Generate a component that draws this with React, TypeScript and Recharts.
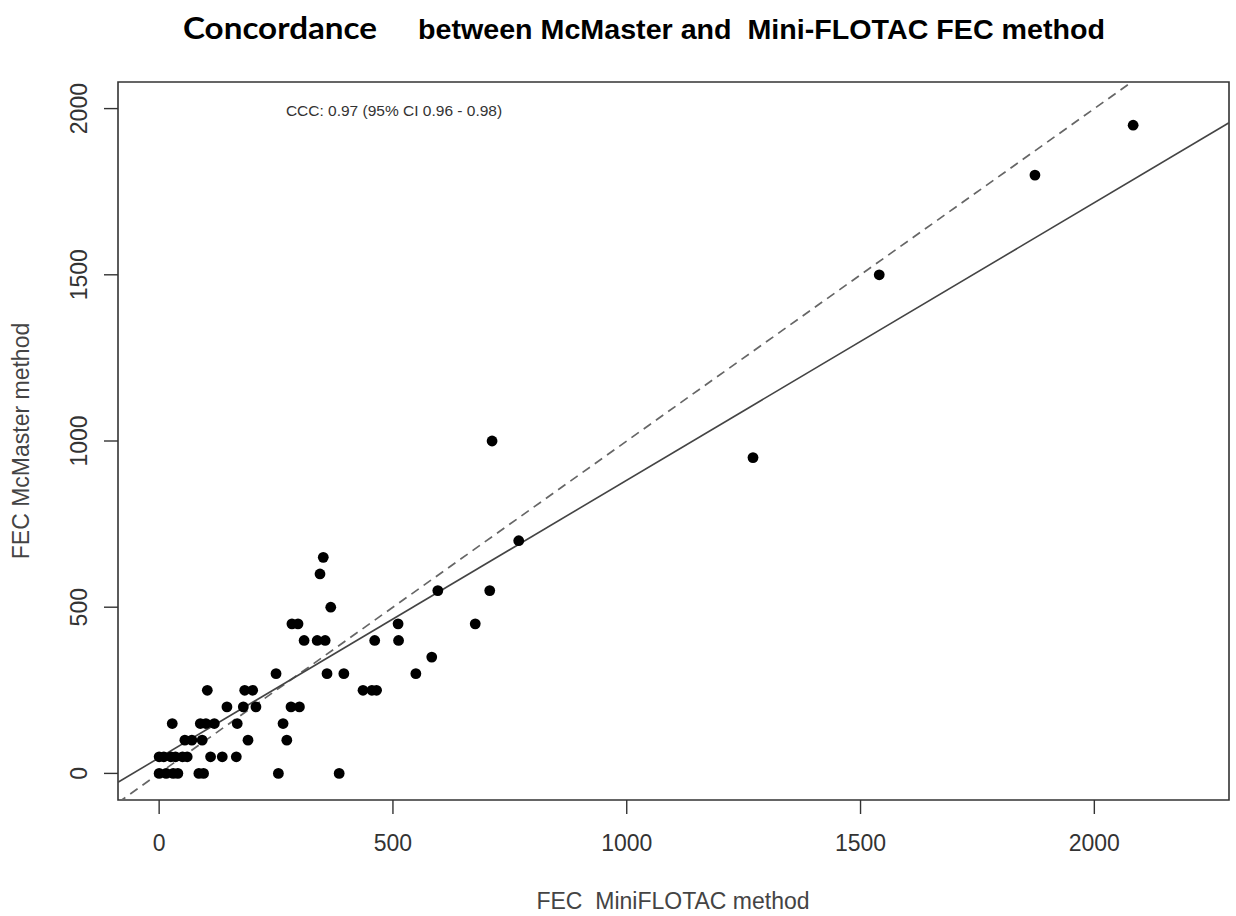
import React from 'react';
import { ScatterChart, Scatter, XAxis, YAxis, ReferenceLine, ReferenceArea } from 'recharts';

// FEC MiniFLOTAC (x) paired with FEC McMaster (y)
const miniFlotacFec = [
  0, 15, 30, 40, 85, 95, 255, 385,
  0, 10, 25, 35, 50, 60, 110, 135, 165,
  55, 70, 92, 190, 273,
  28, 88, 100, 118, 167, 265,
  145, 180, 207, 282, 300,
  103, 183, 200, 436, 455, 465,
  250, 359, 395, 549,
  583,
  310, 338, 355, 461, 512,
  284, 297, 511, 676,
  367,
  596, 707,
  344,
  351,
  769,
  1270,
  712,
  1540,
  1873,
  2083,
];
const mcMasterFec = [
  0, 0, 0, 0, 0, 0, 0, 0,
  50, 50, 50, 50, 50, 50, 50, 50, 50,
  100, 100, 100, 100, 100,
  150, 150, 150, 150, 150, 150,
  200, 200, 200, 200, 200,
  250, 250, 250, 250, 250, 250,
  300, 300, 300, 300,
  350,
  400, 400, 400, 400, 400,
  450, 450, 450, 450,
  500,
  550, 550,
  600,
  650,
  700,
  950,
  1000,
  1500,
  1800,
  1950,
];

const xTicks = [0, 500, 1000, 1500, 2000];
const yTicks = [0, 500, 1000, 1500, 2000];
const xDomain: [number, number] = [-88, 2288];
const yDomain: [number, number] = [-80, 2080];

// fitted line (solid) and line of perfect concordance y = x (dashed)
const fitIntercept = 47;
const fitSlope = 0.835;

const titleMain = 'Concordance';
const titleRest = 'between McMaster and  Mini-FLOTAC FEC method';
const xLabel = 'FEC  MiniFLOTAC method';
const yLabel = 'FEC McMaster method';
const cccLabel = 'CCC: 0.97 (95% CI 0.96 - 0.98)';

const points = miniFlotacFec.map((x, i) => ({ x, y: mcMasterFec[i] }));

const FONT = '"Liberation Sans", Arial, sans-serif';

const XTick = (props: any) => {
  const { x, y, payload } = props;
  return (
    <text x={x} y={y + 35} textAnchor="middle" fontSize={23} fontFamily={FONT} fill="#333">
      {payload.value}
    </text>
  );
};

const YTick = (props: any) => {
  const { x, y, payload } = props;
  return (
    <text
      transform={`translate(${x - 15},${y}) rotate(-90)`}
      textAnchor="middle"
      fontSize={23}
      fontFamily={FONT}
      fill="#333"
    >
      {payload.value}
    </text>
  );
};

const Dot = (props: any) => {
  const { cx, cy } = props;
  return <circle cx={cx} cy={cy} r={5.4} fill="#000" />;
};

export default function App() {
  const fitStart = { x: xDomain[0], y: fitIntercept + fitSlope * xDomain[0] };
  const fitEnd = { x: xDomain[1], y: fitIntercept + fitSlope * xDomain[1] };
  const idStart = { x: xDomain[0], y: xDomain[0] };
  const idEnd = { x: yDomain[1], y: yDomain[1] };
  return (
    <div style={{ position: 'absolute', left: 0, top: 0, width: 1236, height: 916, background: '#fff' }}>
      <ScatterChart width={1236} height={916} margin={{ top: 82, right: 7, bottom: 0, left: 0 }}>
        <XAxis
          type="number"
          dataKey="x"
          domain={xDomain}
          ticks={xTicks}
          allowDataOverflow
          height={116}
          axisLine={false}
          tickSize={14}
          tickLine={{ stroke: '#333', strokeWidth: 1.4 }}
          tick={<XTick />}
          interval={0}
        />
        <YAxis
          type="number"
          dataKey="y"
          domain={yDomain}
          ticks={yTicks}
          allowDataOverflow
          width={118}
          axisLine={false}
          tickSize={14}
          tickLine={{ stroke: '#333', strokeWidth: 1.4 }}
          tick={<YTick />}
          interval={0}
        />
        <ReferenceArea
          x1={xDomain[0]}
          x2={xDomain[1]}
          y1={yDomain[0]}
          y2={yDomain[1]}
          fill="none"
          fillOpacity={0}
          stroke="#333"
          strokeWidth={1.6}
          ifOverflow="visible"
        />
        <ReferenceLine
          segment={[idStart, idEnd]}
          stroke="#666"
          strokeWidth={1.7}
          strokeDasharray="9 6"
          ifOverflow="hidden"
        />
        <ReferenceLine segment={[fitStart, fitEnd]} stroke="#444" strokeWidth={1.6} ifOverflow="hidden" />
        <Scatter data={points} shape={<Dot />} isAnimationActive={false} />
      </ScatterChart>
      <svg
        width={1236}
        height={916}
        style={{ position: 'absolute', left: 0, top: 0, pointerEvents: 'none' }}
      >
        <text
          x={183}
          y={39}
          fontSize={31}
          fontWeight="bold"
          fontFamily='Lato, "Open Sans", sans-serif'
          fill="#000"
          textLength={194}
          lengthAdjust="spacingAndGlyphs"
        >
          {titleMain}
        </text>
        <text
          x={418}
          y={39}
          fontSize={27}
          fontWeight="bold"
          fontFamily={FONT}
          fill="#000"
          style={{ whiteSpace: 'pre' }}
          textLength={687}
          lengthAdjust="spacingAndGlyphs"
        >
          {titleRest}
        </text>
        <text x={394} y={116} fontSize={15.5} textAnchor="middle" fontFamily={FONT} fill="#333">
          {cccLabel}
        </text>
        <text
          x={673}
          y={909}
          fontSize={23}
          textAnchor="middle"
          fontFamily={FONT}
          fill="#444"
          style={{ whiteSpace: 'pre' }}
        >
          {xLabel}
        </text>
        <text
          transform="translate(29,441) rotate(-90)"
          fontSize={23}
          textAnchor="middle"
          fontFamily={FONT}
          fill="#444"
        >
          {yLabel}
        </text>
      </svg>
    </div>
  );
}
